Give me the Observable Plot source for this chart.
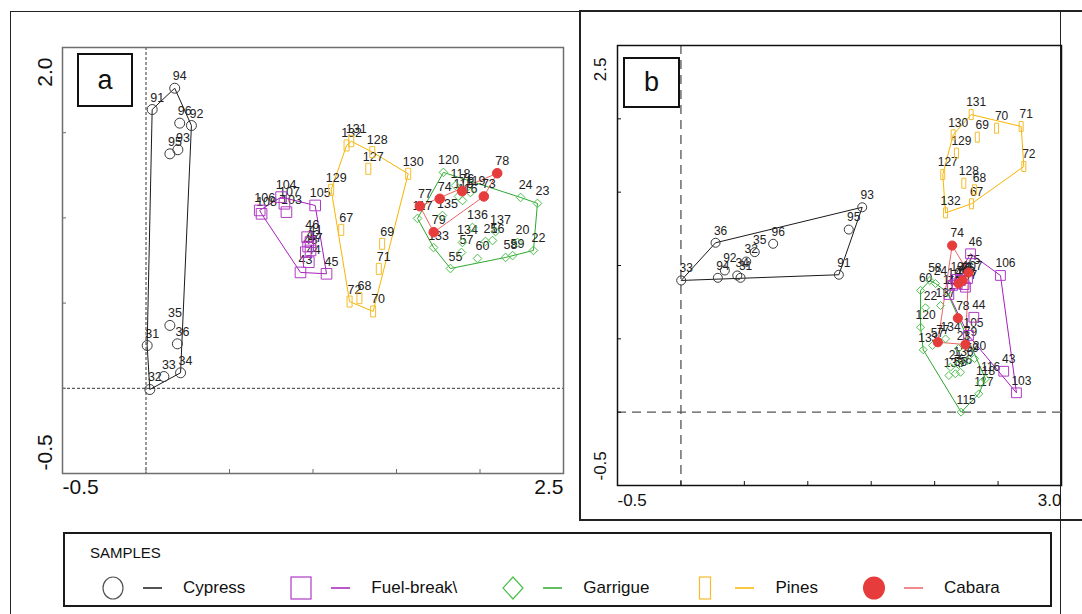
<!DOCTYPE html>
<html>
<head>
<meta charset="utf-8">
<script src="https://cdn.jsdelivr.net/npm/d3@7"></script>
<script src="https://cdn.jsdelivr.net/npm/@observablehq/plot@0.6"></script>
<style>
  body { margin: 0; background: #fff; font-family: "Liberation Sans", Arial, sans-serif; }
  #page { position: relative; width: 1082px; height: 614px; overflow: hidden; background: #fff; }
  .abs { position: absolute; }
  .frame { position: absolute; box-sizing: border-box; border: 1.5px solid #222; }
  .tag { position: absolute; box-sizing: border-box; border: 2px solid #111; font-size: 27px;
         display: flex; align-items: center; justify-content: center; color: #111; background: #fff; }
  #legend { position: absolute; left: 63px; top: 532px; width: 989px; height: 75px;
            box-sizing: border-box; border: 2px solid #1a1a1a; color: #111; }
  #legend .ltitle { position: absolute; left: 25px; top: 10px; font-size: 15px; }
  #legend .lrow { position: absolute; left: 36px; top: 41px; display: flex; align-items: center; font-size: 17px; }
  #legend .litem { display: flex; align-items: center; margin-right: 44px; }
</style>
</head>
<body>
<div id="page">
  <div class="frame" style="left:10px;top:11px;width:1051px;height:700px;"></div>
  <div class="frame" style="left:579px;top:10px;width:520px;height:511px;border-width:2px;"></div>
  <div id="panelA" class="abs" style="left:0;top:0;"></div>
  <div id="panelB" class="abs" style="left:579px;top:0;"></div>
  <div class="tag" style="left:77px;top:53px;width:56px;height:54px;">a</div>
  <div class="tag" style="left:623px;top:57px;width:57px;height:51px;">b</div>
  <div id="legend"></div>
</div>
<script>
// ---- sample groups -------------------------------------------------------
const sampleGroups = ["Cypress", "Fuel-break\\", "Garrigue", "Pines", "Cabara"];

// ---- panel a: sample scores [id, axis 1, axis 2] --------------------------
const cypressA = [["94",0.172,1.761],["91",0.037,1.636],["96",0.202,1.556],["92",0.272,1.542],
  ["95",0.143,1.376],["93",0.191,1.400],["35",0.143,0.369],["31",0.007,0.251],["36",0.188,0.261],
  ["34",0.207,0.091],["33",0.107,0.069],["32",0.023,-0.007]];
const fuelBreakA = [["106",0.681,1.044],["108",0.692,1.024],["104",0.809,1.122],["107",0.829,1.083],
  ["103",0.841,1.034],["105",1.013,1.073],["46",0.965,0.887],["41",0.985,0.858],["42",0.971,0.832],
  ["48",0.957,0.799],["47",0.985,0.809],["44",0.975,0.740],["43",0.925,0.680],["45",1.081,0.672]];
const garrigueA = [["120",1.781,1.267],["118",1.853,1.190],["119",1.943,1.149],["24",2.243,1.120],
  ["23",2.344,1.085],["22",2.320,0.809],["20",2.225,0.856],["58",2.153,0.768],["59",2.195,0.779],
  ["56",2.075,0.867],["21",2.033,0.862],["137",2.093,0.920],["136",1.955,0.944],["134",1.895,0.856],
  ["60",1.985,0.762],["55",1.823,0.703],["57",1.889,0.797],["133",1.722,0.826],["135",1.775,1.014],
  ["117",1.626,0.997],["116",1.895,1.102],["115",1.871,1.126]];
const pinesA = [["131",1.229,1.450],["132",1.201,1.425],["128",1.355,1.386],["127",1.331,1.288],
  ["130",1.570,1.259],["129",1.109,1.165],["67",1.169,0.930],["69",1.414,0.848],["71",1.394,0.701],
  ["72",1.219,0.509],["68",1.278,0.529],["70",1.360,0.451]];
const cabaraA = [["78",2.103,1.262],["73",2.023,1.126],["76",1.893,1.157],["74",1.759,1.112],
  ["77",1.640,1.069],["79",1.723,0.916]];

// ---- panel b: sample scores [id, axis 1, axis 2] --------------------------
const cypressB = [["33",0.002,0.898],["36",0.273,1.155],["93",1.429,1.397],["95",1.323,1.245],
  ["91",1.245,0.937],["96",0.727,1.148],["35",0.582,1.091],["32",0.515,1.027],["92",0.346,0.966],
  ["94",0.291,0.916],["34",0.444,0.932],["31",0.470,0.916]];
const fuelBreakB = [["46",2.283,1.080],["106",2.519,0.932],["103",2.645,0.132],["43",2.545,0.279],
  ["44",2.309,0.647],["105",2.267,0.523],["47",2.243,0.852],["41",2.178,0.875],["42",2.204,0.898],
  ["48",2.232,0.870],["45",2.112,0.802],["104",2.164,0.905],["107",2.259,0.911],["108",2.141,0.864]];
const garrigueB = [["58",1.962,0.898],["24",2.007,0.877],["60",1.889,0.830],["22",1.928,0.712],
  ["120",1.889,0.579],["133",1.910,0.425],["134",2.086,0.500],["57",1.983,0.455],["23",2.188,0.434],
  ["21",2.125,0.307],["55",2.164,0.262],["56",2.204,0.272],["59",2.257,0.352],["20",2.314,0.366],
  ["135",2.112,0.250],["136",2.188,0.325],["117",2.348,0.125],["115",2.209,0.000],["116",2.401,0.227],
  ["118",2.362,0.198],["119",2.099,0.818],["137",2.046,0.727]];
const pinesB = [["131",2.288,2.029],["70",2.488,1.936],["71",2.682,1.948],["69",2.336,1.875],
  ["130",2.146,1.891],["129",2.172,1.766],["127",2.064,1.620],["72",2.703,1.675],["128",2.230,1.561],
  ["68",2.314,1.516],["67",2.291,1.421],["132",2.086,1.359]];
const cabaraB = [["74",2.138,1.136],["75",2.267,0.952],["76",2.220,0.898],["73",2.188,0.877],
  ["78",2.183,0.641],["77",2.025,0.477],["79",2.243,0.461]];

// ---- axes ------------------------------------------------------------------
const xTicksA = [-0.5, 0, 0.5, 1, 1.5, 2, 2.5];
const yTicksA = [-0.5, 0, 0.5, 1, 1.5, 2];
const xLabelsA = [-0.5, 2.5];
const yLabelsA = [-0.5, 2.0];
const xTicksB = [-0.5, 0, 0.5, 1, 1.5, 2, 2.5, 3];
const yTicksB = [-0.5, 0, 0.5, 1, 1.5, 2, 2.5];
const xLabelsB = [-0.5, 3.0];
const yLabelsB = [-0.5, 2.5];

// ---- styling ----------------------------------------------------------------
const FONT = '"Liberation Sans", Arial, sans-serif';
const COLORS = {
  "Cypress":     {mark: "#3a3a3a", line: "#1a1a1a"},
  "Fuel-break\\": {mark: "#b03ac4", line: "#a41fba"},
  "Garrigue":    {mark: "#4cbf4a", line: "#2ea82e"},
  "Pines":       {mark: "#f5bd2e", line: "#f7b500"},
  "Cabara":      {mark: "#e63c3c", line: "#ec6464"}
};
// narrow upright rectangle used for the pine samples
const uprightRect = (w, h) => ({draw(ctx) { ctx.rect(-w / 2, -h / 2, w, h); }});

const rows = arr => arr.map(([id, x, y]) => ({id, x, y}));

function drawPanel(cfg) {
  const {sets, symbols, xDomain, yDomain, xTicks, yTicks, xLabels, yLabels,
         width, height, margin, frameStroke, frameWidth, dash, dashStroke, dashWidth,
         labelSize, tickFont, yTopShift, yBottomShift} = cfg;
  const innerW = width - margin.left - margin.right;
  const innerH = height - margin.top - margin.bottom;
  const fmt = d => d.toFixed(1);
  const groups = sampleGroups.map((name, i) => ({name, data: rows(sets[i]), sym: symbols[i], color: COLORS[name]}));
  const marks = [
    Plot.ruleX([0], {stroke: dashStroke, strokeWidth: dashWidth, strokeDasharray: dash}),
    Plot.ruleY([0], {stroke: dashStroke, strokeWidth: dashWidth, strokeDasharray: dash})
  ];
  for (const g of groups)
    marks.push(Plot.hull(g.data, {x: "x", y: "y", stroke: g.color.line, strokeWidth: 1}));
  for (const g of groups)
    marks.push(Plot.text(g.data, {x: "x", y: "y", text: "id", dx: 5, dy: -12,
      fontSize: labelSize, fill: "#222", fontFamily: FONT}));
  for (const g of groups)
    marks.push(Plot.dot(g.data, {x: "x", y: "y", symbol: g.sym.symbol, r: g.sym.r,
      stroke: g.color.mark, fill: g.sym.filled ? g.color.mark : "none", strokeWidth: 1}));
  marks.push(
    Plot.frame({stroke: frameStroke, strokeWidth: frameWidth}),
    Plot.tickX(xTicks, {x: d => d, stroke: frameStroke, insetTop: innerH - 4}),
    Plot.tickY(yTicks, {y: d => d, stroke: frameStroke, insetRight: innerW - 4}),
    Plot.text([xLabels[0]], {x: d => d, text: fmt, frameAnchor: "bottom", textAnchor: "start",
      dy: 20, fontSize: tickFont, fill: "#111", fontFamily: FONT}),
    Plot.text([xLabels[1]], {x: d => d, text: fmt, frameAnchor: "bottom", textAnchor: "end",
      dy: 20, fontSize: tickFont, fill: "#111", fontFamily: FONT}),
    Plot.text([yLabels[0]], {y: d => d, text: fmt, frameAnchor: "left", textAnchor: "start", rotate: -90,
      dx: -17, dy: yBottomShift, fontSize: tickFont, fill: "#111", fontFamily: FONT}),
    Plot.text([yLabels[1]], {y: d => d, text: fmt, frameAnchor: "left", textAnchor: "end", rotate: -90,
      dx: -17, dy: yTopShift, fontSize: tickFont, fill: "#111", fontFamily: FONT})
  );
  return Plot.plot({
    width, height,
    marginLeft: margin.left, marginRight: margin.right, marginTop: margin.top, marginBottom: margin.bottom,
    x: {domain: xDomain, axis: null},
    y: {domain: yDomain, axis: null},
    style: {fontFamily: FONT, fontSize: "12px", background: "none", overflow: "visible"},
    marks
  });
}

document.getElementById("panelA").append(drawPanel({
  sets: [cypressA, fuelBreakA, garrigueA, pinesA, cabaraA],
  symbols: [
    {symbol: "circle", r: 5},
    {symbol: "square", r: 6},
    {symbol: "diamond2", r: 3.9},
    {symbol: uprightRect(5, 11), r: 5},
    {symbol: "circle", r: 4.8, filled: true}
  ],
  xDomain: [-0.5, 2.5], yDomain: [-0.5, 2.0],
  xTicks: xTicksA, yTicks: yTicksA, xLabels: xLabelsA, yLabels: yLabelsA,
  width: 575, height: 510, margin: {left: 62, right: 12, top: 47, bottom: 37},
  frameStroke: "#6e6e6e", frameWidth: 1.5, dash: "3,2", dashStroke: "#333", dashWidth: 1,
  labelSize: 12.5, tickFont: 21, yTopShift: 10, yBottomShift: -3
}));

document.getElementById("panelB").append(drawPanel({
  sets: [cypressB, fuelBreakB, garrigueB, pinesB, cabaraB],
  symbols: [
    {symbol: "circle", r: 4.5},
    {symbol: "square", r: 5.5},
    {symbol: "diamond2", r: 3.6},
    {symbol: uprightRect(4, 10), r: 5},
    {symbol: "circle", r: 4.6, filled: true}
  ],
  xDomain: [-0.5, 3.0], yDomain: [-0.5, 2.5],
  xTicks: xTicksB, yTicks: yTicksB, xLabels: xLabelsB, yLabels: yLabelsB,
  width: 503, height: 530, margin: {left: 38, right: 21, top: 45, bottom: 45},
  frameStroke: "#111", frameWidth: 1.5, dash: "9,6", dashStroke: "#555", dashWidth: 1.3,
  labelSize: 12, tickFont: 17, yTopShift: 12, yBottomShift: -5
}));

// ---- legend -------------------------------------------------------------------
const legendShapes = ["ring", "box", "diamond", "slim", "disc"];
const legend = d3.select("#legend");
legend.append("div").attr("class", "ltitle").text("SAMPLES");
const row = legend.append("div").attr("class", "lrow");
sampleGroups.forEach((name, i) => {
  const c = COLORS[name];
  const item = row.append("div").attr("class", "litem");
  const s = item.append("svg").attr("width", 24).attr("height", 26);
  const shape = legendShapes[i];
  if (shape === "ring") s.append("ellipse").attr("cx", 12).attr("cy", 13).attr("rx", 10).attr("ry", 11)
    .attr("fill", "none").attr("stroke", "#555").attr("stroke-width", 1.2);
  if (shape === "box") s.append("rect").attr("x", 2).attr("y", 2).attr("width", 20).attr("height", 22)
    .attr("fill", "none").attr("stroke", c.mark).attr("stroke-width", 1.2);
  if (shape === "diamond") s.append("polygon").attr("points", "12,2 22,13 12,24 2,13")
    .attr("fill", "none").attr("stroke", c.mark).attr("stroke-width", 1.2);
  if (shape === "slim") s.append("rect").attr("x", 6.5).attr("y", 2).attr("width", 11).attr("height", 22)
    .attr("fill", "none").attr("stroke", c.mark).attr("stroke-width", 1.2);
  if (shape === "disc") s.append("ellipse").attr("cx", 12).attr("cy", 13).attr("rx", 11).attr("ry", 11.5)
    .attr("fill", c.mark);
  const l = item.append("svg").attr("width", 19).attr("height", 4)
    .style("margin-left", "18px").style("margin-right", "21px");
  l.append("line").attr("x1", 0).attr("x2", 19).attr("y1", 2).attr("y2", 2)
    .attr("stroke", c.line).attr("stroke-width", 1.5);
  item.append("span").text(name);
});
</script>
</body>
</html>
